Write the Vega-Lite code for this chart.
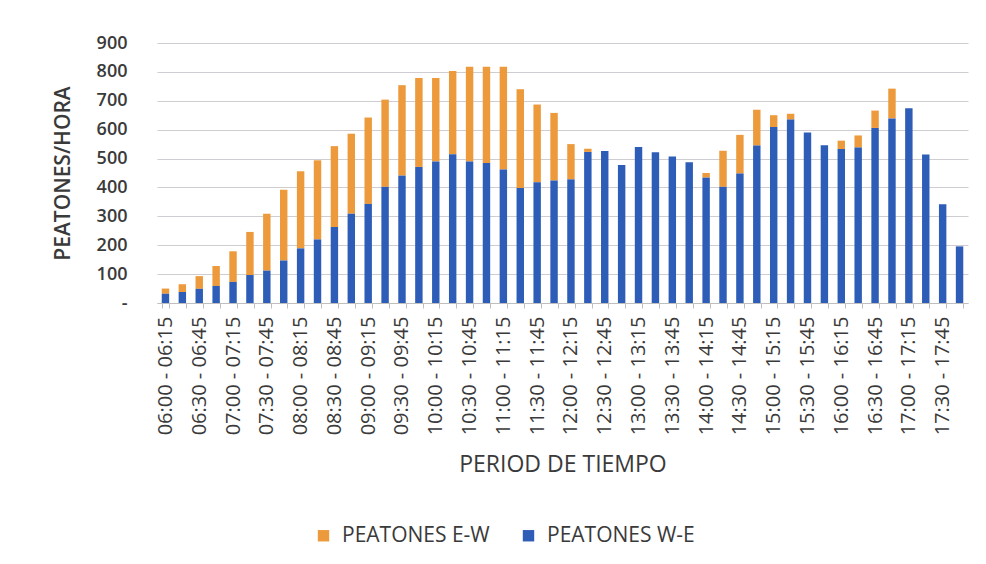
{
  "$schema": "https://vega.github.io/schema/vega-lite/v6.json",
  "width": 811,
  "height": 260,
  "autosize": {"type": "none"},
  "padding": {"left": 157, "top": 43, "right": 18, "bottom": 261},
  "background": "white",
  "config": {
    "view": {"stroke": null},
    "font": "Open Sans",
    "axis": {"labelFont": "Open Sans", "titleFont": "Open Sans", "labelColor": "#3a3a3a", "titleColor": "#3a3a3a"}
  },
  "data": {
    "values": [
      {"t": "06:00 - 06:15", "PEATONES W-E": 32, "PEATONES E-W": 18},
      {"t": "06:15 - 06:30", "PEATONES W-E": 38, "PEATONES E-W": 27},
      {"t": "06:30 - 06:45", "PEATONES W-E": 49, "PEATONES E-W": 44},
      {"t": "06:45 - 07:00", "PEATONES W-E": 59, "PEATONES E-W": 69},
      {"t": "07:00 - 07:15", "PEATONES W-E": 73, "PEATONES E-W": 106},
      {"t": "07:15 - 07:30", "PEATONES W-E": 97, "PEATONES E-W": 149},
      {"t": "07:30 - 07:45", "PEATONES W-E": 112, "PEATONES E-W": 197},
      {"t": "07:45 - 08:00", "PEATONES W-E": 147, "PEATONES E-W": 245},
      {"t": "08:00 - 08:15", "PEATONES W-E": 189, "PEATONES E-W": 267},
      {"t": "08:15 - 08:30", "PEATONES W-E": 220, "PEATONES E-W": 274},
      {"t": "08:30 - 08:45", "PEATONES W-E": 263, "PEATONES E-W": 280},
      {"t": "08:45 - 09:00", "PEATONES W-E": 309, "PEATONES E-W": 277},
      {"t": "09:00 - 09:15", "PEATONES W-E": 343, "PEATONES E-W": 299},
      {"t": "09:15 - 09:30", "PEATONES W-E": 402, "PEATONES E-W": 302},
      {"t": "09:30 - 09:45", "PEATONES W-E": 441, "PEATONES E-W": 313},
      {"t": "09:45 - 10:00", "PEATONES W-E": 471, "PEATONES E-W": 308},
      {"t": "10:00 - 10:15", "PEATONES W-E": 490, "PEATONES E-W": 289},
      {"t": "10:15 - 10:30", "PEATONES W-E": 515, "PEATONES E-W": 288},
      {"t": "10:30 - 10:45", "PEATONES W-E": 490, "PEATONES E-W": 328},
      {"t": "10:45 - 11:00", "PEATONES W-E": 485, "PEATONES E-W": 333},
      {"t": "11:00 - 11:15", "PEATONES W-E": 462, "PEATONES E-W": 356},
      {"t": "11:15 - 11:30", "PEATONES W-E": 398, "PEATONES E-W": 342},
      {"t": "11:30 - 11:45", "PEATONES W-E": 418, "PEATONES E-W": 269},
      {"t": "11:45 - 12:00", "PEATONES W-E": 424, "PEATONES E-W": 234},
      {"t": "12:00 - 12:15", "PEATONES W-E": 428, "PEATONES E-W": 122},
      {"t": "12:15 - 12:30", "PEATONES W-E": 523, "PEATONES E-W": 11},
      {"t": "12:30 - 12:45", "PEATONES W-E": 526, "PEATONES E-W": 0},
      {"t": "12:45 - 13:00", "PEATONES W-E": 478, "PEATONES E-W": 0},
      {"t": "13:00 - 13:15", "PEATONES W-E": 540, "PEATONES E-W": 0},
      {"t": "13:15 - 13:30", "PEATONES W-E": 522, "PEATONES E-W": 0},
      {"t": "13:30 - 13:45", "PEATONES W-E": 507, "PEATONES E-W": 0},
      {"t": "13:45 - 14:00", "PEATONES W-E": 487, "PEATONES E-W": 0},
      {"t": "14:00 - 14:15", "PEATONES W-E": 434, "PEATONES E-W": 16},
      {"t": "14:15 - 14:30", "PEATONES W-E": 402, "PEATONES E-W": 125},
      {"t": "14:30 - 14:45", "PEATONES W-E": 448, "PEATONES E-W": 134},
      {"t": "14:45 - 15:00", "PEATONES W-E": 545, "PEATONES E-W": 124},
      {"t": "15:00 - 15:15", "PEATONES W-E": 609, "PEATONES E-W": 41},
      {"t": "15:15 - 15:30", "PEATONES W-E": 635, "PEATONES E-W": 20},
      {"t": "15:30 - 15:45", "PEATONES W-E": 590, "PEATONES E-W": 0},
      {"t": "15:45 - 16:00", "PEATONES W-E": 546, "PEATONES E-W": 0},
      {"t": "16:00 - 16:15", "PEATONES W-E": 533, "PEATONES E-W": 29},
      {"t": "16:15 - 16:30", "PEATONES W-E": 538, "PEATONES E-W": 42},
      {"t": "16:30 - 16:45", "PEATONES W-E": 606, "PEATONES E-W": 60},
      {"t": "16:45 - 17:00", "PEATONES W-E": 639, "PEATONES E-W": 103},
      {"t": "17:00 - 17:15", "PEATONES W-E": 674, "PEATONES E-W": 0},
      {"t": "17:15 - 17:30", "PEATONES W-E": 514, "PEATONES E-W": 0},
      {"t": "17:30 - 17:45", "PEATONES W-E": 342, "PEATONES E-W": 0},
      {"t": "17:45 - 18:00", "PEATONES W-E": 196, "PEATONES E-W": 0}
    ]
  },
  "transform": [
    {"fold": ["PEATONES E-W", "PEATONES W-E"], "as": ["dir", "val"]}
  ],
  "mark": {"type": "bar"},
  "encoding": {
    "x": {
      "field": "t",
      "type": "nominal",
      "sort": null,
      "scale": {"paddingInner": 0.56, "paddingOuter": 0.28},
      "axis": {
        "title": "PERIOD DE TIEMPO",
        "titleFontSize": 23,
        "titleFontWeight": "normal",
        "titlePadding": 19,
        "labelAngle": -90,
        "labelFontSize": 20,
        "labelPadding": 8,
        "labelExpr": "indexof(['00','30'], substring(datum.label, 3, 5)) >= 0 ? datum.label : ''",
        "labelOverlap": false,
        "tickBand": "extent",
        "tickSize": 5,
        "tickColor": "#bfbfbf",
        "domainColor": "#bfbfbf",
        "grid": false
      }
    },
    "y": {
      "field": "val",
      "type": "quantitative",
      "stack": "zero",
      "scale": {"domain": [0, 900], "nice": false},
      "axis": {
        "title": "PEATONES/HORA",
        "titleFontSize": 21,
        "titleFontWeight": 600,
        "titlePadding": 23,
        "labelFontSize": 18,
        "labelFontWeight": 600,
        "labelPadding": 30,
        "labelOverlap": false,
        "values": [0, 100, 200, 300, 400, 500, 600, 700, 800, 900],
        "labelExpr": "datum.value == 0 ? '-' : datum.label",
        "domain": false,
        "ticks": false,
        "gridColor": "#d0cdd2",
        "gridWidth": 1
      }
    },
    "color": {
      "field": "dir",
      "type": "nominal",
      "scale": {"domain": ["PEATONES E-W", "PEATONES W-E"], "range": ["#EC9A3C", "#2E5DB8"]},
      "legend": {
        "title": null,
        "orient": "none",
        "direction": "horizontal",
        "legendX": 156,
        "legendY": 482,
        "symbolType": "square",
        "symbolSize": 130,
        "symbolStrokeWidth": 0,
        "labelFontSize": 21,
        "labelColor": "#3a3a3a",
        "columnPadding": 28,
        "labelOffset": 8
      }
    },
    "order": {"field": "dir", "sort": "descending"}
  }
}
